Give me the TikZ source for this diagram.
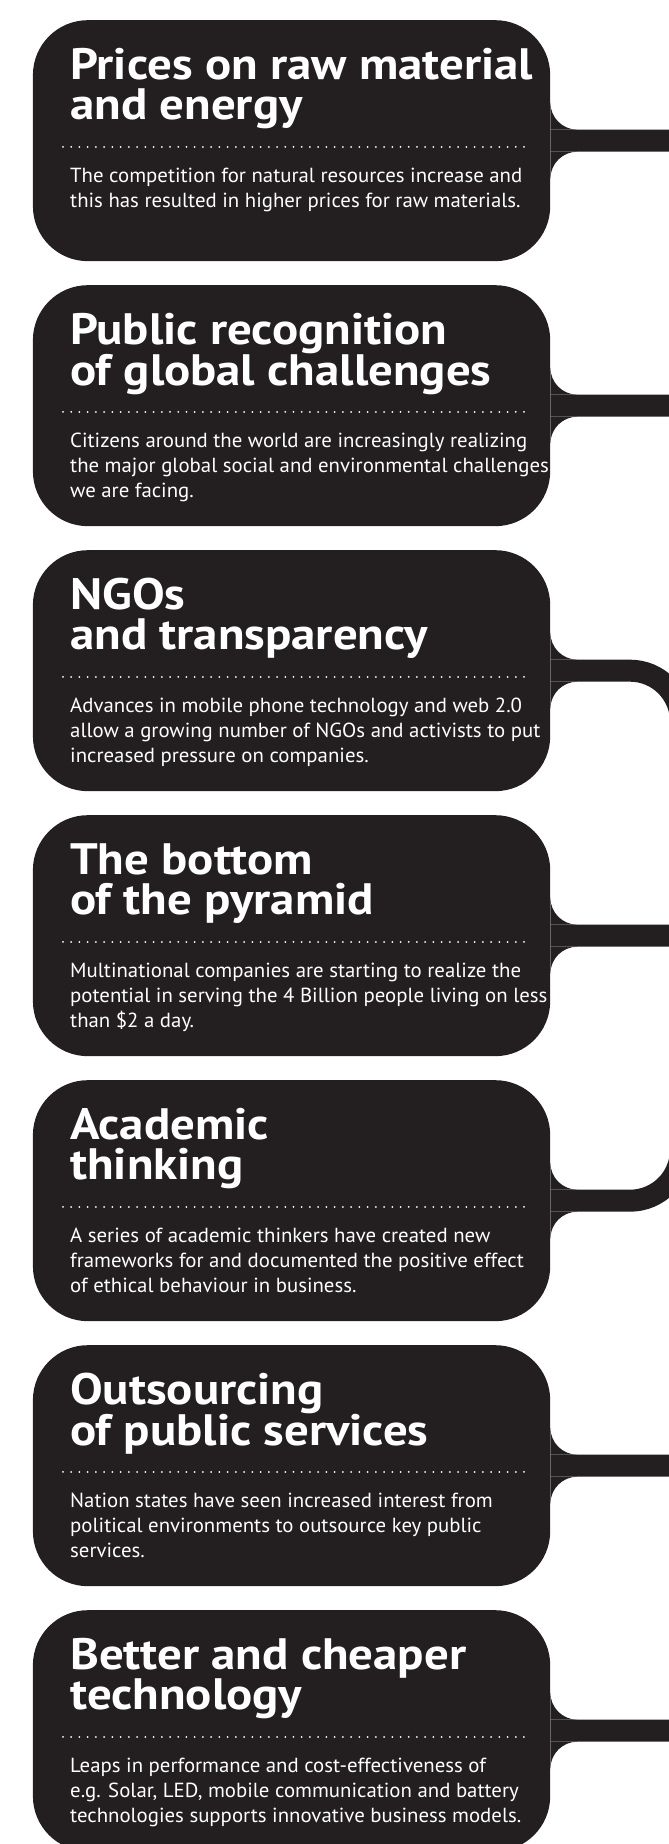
\documentclass[tikz,border=0pt]{standalone}
\usepackage{fontspec}
\setmainfont{PT Sans}[FakeStretch=1.02]
\newfontfamily\headfont{PT Sans}[FakeStretch=1.11]
\definecolor{cardfill}{HTML}{231F20}
% left-aligned lines stacked in a box whose baseline is the first line
\newcommand{\stacklines}[1]{\vtop{\let\\\cr\halign{##\hfil\cr#1\crcr}}}

\begin{document}
\begin{tikzpicture}[x=1pt,y=1pt,
  card/.style={fill=cardfill, rounded corners=55pt, minimum width=517.3pt,
    minimum height=241pt, inner sep=0pt, anchor=north west},
  link/.style={draw=cardfill, line width=22pt},
  fillet/.style={fill=cardfill},
  headline/.style={text=white, font=\headfont\bfseries\fontsize{44}{40}\selectfont,
    anchor=base west, inner sep=0pt},
  blurb/.style={text=white, font=\fontsize{20.4}{25}\selectfont,
    anchor=base west, inner sep=0pt},
  dotrule/.style={white, line width=2pt, line cap=round,
    dash pattern=on 0pt off 8.232pt}]

\useasboundingbox (0,0) rectangle (669,1844);
\clip (0,0) rectangle (669,1844);

% one card: #1 name, #2 top edge, #3 headline, #4 blurb
\newcommand{\factcard}[4]{%
  \node[card] (#1) at (32.7,#2) {};
  \node[headline] (#1-h) at (70,#2-59.3) {\stacklines{#3}};
  \node[blurb] (#1-b) at (70,#2-162.7) {\stacklines{#4}};
  \coordinate (#1-dl) at (63,#2-127);
  \coordinate (#1-dr) at (524,#2-127);
  \draw[dotrule] (#1-dl) -- (#1-dr);
  % concave fillets where the link leaves the card
  \fill[fillet] ([yshift=11pt]#1.east) -- ++(0,27)
     arc[start angle=180, end angle=270, radius=27] -- cycle;
  \fill[fillet] ([yshift=-11pt]#1.east) -- ++(0,-27)
     arc[start angle=180, end angle=90, radius=27] -- cycle;
}

\factcard{c1}{1824}{Prices on raw material\\and energy}
  {The competition for natural resources increase and\\this has resulted in higher prices for raw materials.}
\factcard{c2}{1559}{Public recognition\\of global challenges}
  {Citizens around the world are increasingly realizing\\the major global social and environmental challenges\\we are facing.}
\factcard{c3}{1294}{NGOs\\and transparency}
  {Advances in mobile phone technology and web 2.0\\allow a growing number of NGOs and activists to put\\increased pressure on companies.}
\factcard{c4}{1029}{The bottom\\of the pyramid}
  {Multinational companies are starting to realize the\\potential in serving the 4 Billion people living on less\\than \$2 a day.}
\factcard{c5}{764}{Academic\\thinking}
  {A series of academic thinkers have created new\\frameworks for and documented the positive effect\\of ethical behaviour in business.}
\factcard{c6}{499}{Outsourcing\\of public services}
  {Nation states have seen increased interest from\\political environments to outsource key public\\services.}
\factcard{c7}{234}{Better and cheaper\\technology}
  {Leaps in performance and cost-effectiveness of\\e.g. Solar, LED, mobile communication and battery\\technologies supports innovative business models.}

% links running off to the right
\coordinate (e1) at (690,1824-120.5);
\coordinate (e2) at (690,1559-120.5);
\coordinate (e4) at (690,1029-120.5);
\coordinate (e6) at (690,499-120.5);
\coordinate (e7) at (690,234-120.5);
\coordinate (e3) at (681,1294-120.5-200);
\coordinate (e5) at (681,764-120.5+200);
\draw[link] (c1.east) -- (e1);
\draw[link] (c2.east) -- (e2);
\draw[link] (c4.east) -- (e4);
\draw[link] (c6.east) -- (e6);
\draw[link] (c7.east) -- (e7);
\draw[link, rounded corners=51pt] (c3.east) -- (c3.east -| e3) -- (e3);
\draw[link, rounded corners=51pt] (c5.east) -- (c5.east -| e5) -- (e5);
\end{tikzpicture}
\end{document}
